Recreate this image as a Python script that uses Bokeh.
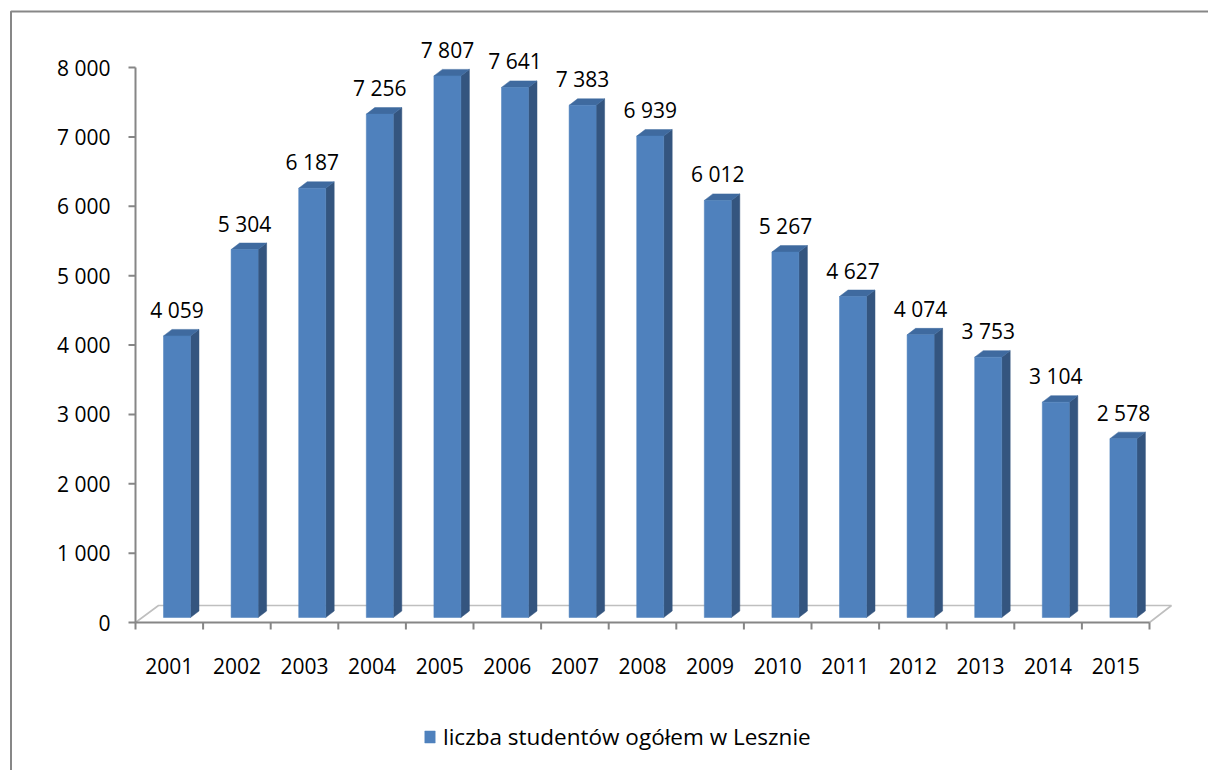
from bokeh.plotting import figure
from bokeh.models import Range1d, ColumnDataSource, Legend, LegendItem
from bokeh.embed import file_html
from bokeh.resources import INLINE
from bokeh.core.properties import value

# ---------------- data ----------------
years = ["2001", "2002", "2003", "2004", "2005", "2006", "2007", "2008",
         "2009", "2010", "2011", "2012", "2013", "2014", "2015"]
students = [4059, 5304, 6187, 7256, 7807, 7641, 7383, 6939,
            6012, 5267, 4627, 4074, 3753, 3104, 2578]
y_ticks = [0, 1000, 2000, 3000, 4000, 5000, 6000, 7000, 8000]
y_tick_labels = ["0", "1 000", "2 000", "3 000", "4 000", "5 000", "6 000", "7 000", "8 000"]
series_name = "liczba studentów ogółem w Lesznie"

def fmt(v):
    return f"{v:,}".replace(",", " ")

# ---------------- layout (canvas pixels) ----------------
W, H = 1208, 770
X0 = 135.0            # y axis position from left
CAT = 67.6            # px per category
Y0 = 622.0            # value 0 position from top
PXU = 555.0 / 8000.0  # px per unit value
FONT = "Open Sans"
TXT_FIX = 8.0         # rendering correction for text baseline (px)

def dx(px):
    return px / CAT

def dy(px):
    return px / PXU

p = figure(width=W, height=H, output_backend="svg", toolbar_location=None,
           x_range=Range1d(-X0 / CAT, (W - X0) / CAT),
           y_range=Range1d(-(H - Y0) / PXU, Y0 / PXU),
           x_axis_location=None, y_axis_location=None,
           min_border=0, min_border_left=0, min_border_right=0,
           min_border_top=0, min_border_bottom=0)
p.grid.visible = False
p.outline_line_color = None
p.background_fill_color = "white"
p.border_fill_color = "white"

# outer chart frame (left and top edges visible)
p.line(x=[-dx(X0 - 10.5), -dx(X0 - 10.5), dx(W - X0)],
       y=[-dy(H - Y0), dy(Y0 - 11), dy(Y0 - 11)],
       line_color="#878787", line_width=2)

n = len(years)
# ---------------- 3D floor ----------------
FD_X, FD_Y = 23, 17
p.line(x=[0, dx(FD_X), n + dx(FD_X - 1), n],
       y=[0, dy(FD_Y), dy(FD_Y), 0],
       line_color="#BFBFBF", line_width=1.6)

# ---------------- bars ----------------
SH = 5.0      # vertical shift of bar front (depth placement)
BL, BR = 28.0, 55.0
DX, DY = 8.5, 6.5
lefts = [i + dx(BL) for i in range(n)]
rights = [i + dx(BR) for i in range(n)]
bottoms = [dy(SH)] * n
tops = [v + dy(SH) for v in students]

side_xs = [[r, r + dx(DX), r + dx(DX), r] for r in rights]
side_ys = [[b, b + dy(DY), t + dy(DY), t] for b, t in zip(bottoms, tops)]
top_xs = [[l, l + dx(DX), r + dx(DX), r] for l, r in zip(lefts, rights)]
top_ys = [[t, t + dy(DY), t + dy(DY), t] for t in tops]

p.patches(xs=side_xs, ys=side_ys, fill_color="#34557F", line_color="#34557F", line_width=0.5)
p.patches(xs=top_xs, ys=top_ys, fill_color="#3F6A9F", line_color="#3F6A9F", line_width=0.5)
front = p.quad(left=lefts, right=rights, bottom=bottoms, top=tops,
               fill_color="#4F81BD", line_color="#4F81BD", line_width=0.5)

# data labels
src_lab = ColumnDataSource(dict(x=[(l + r) / 2 for l, r in zip(lefts, rights)],
                                y=[t + dy(18 + TXT_FIX) for t in tops],
                                t=[fmt(v) for v in students]))
p.text(x="x", y="y", text="t", source=src_lab, text_align="center",
       text_baseline="alphabetic", text_font=value(FONT), text_font_size="21px",
       text_color="#000000")

# ---------------- axes ----------------
AX_COL = "#868686"
# y axis
p.line(x=[0, 0], y=[0, y_ticks[-1]], line_color=AX_COL, line_width=2)
p.segment(x0=[-dx(7)] * len(y_ticks), y0=y_ticks, x1=[0] * len(y_ticks), y1=y_ticks,
          line_color=AX_COL, line_width=2)
p.text(x=[-dx(25)] * len(y_ticks), y=[v - dy(8 - TXT_FIX) for v in y_ticks], text=y_tick_labels,
       text_align="right", text_baseline="alphabetic", text_font=value(FONT),
       text_font_size="21px", text_color="#000000")
# x axis
p.line(x=[0, n], y=[0, 0], line_color=AX_COL, line_width=2)
p.segment(x0=list(range(n + 1)), y0=[0] * (n + 1), x1=list(range(n + 1)), y1=[-dy(7)] * (n + 1),
          line_color=AX_COL, line_width=2)
p.text(x=[i + 0.5 for i in range(n)], y=[-dy(51 - TXT_FIX)] * n, text=years,
       text_align="center", text_baseline="alphabetic", text_font=value(FONT),
       text_font_size="21px", text_color="#000000")

# ---------------- legend ----------------
legend = Legend(items=[LegendItem(label=series_name, renderers=[front])],
                location=(423, 18), orientation="horizontal",
                glyph_width=13, glyph_height=15, label_standoff=7,
                padding=0, margin=0, spacing=0,
                border_line_color=None, background_fill_alpha=0,
                label_text_font=FONT, label_text_font_size="22.5px",
                label_text_color="#000000")
p.add_layout(legend)

open("out.html", "w").write(file_html(p, INLINE))
